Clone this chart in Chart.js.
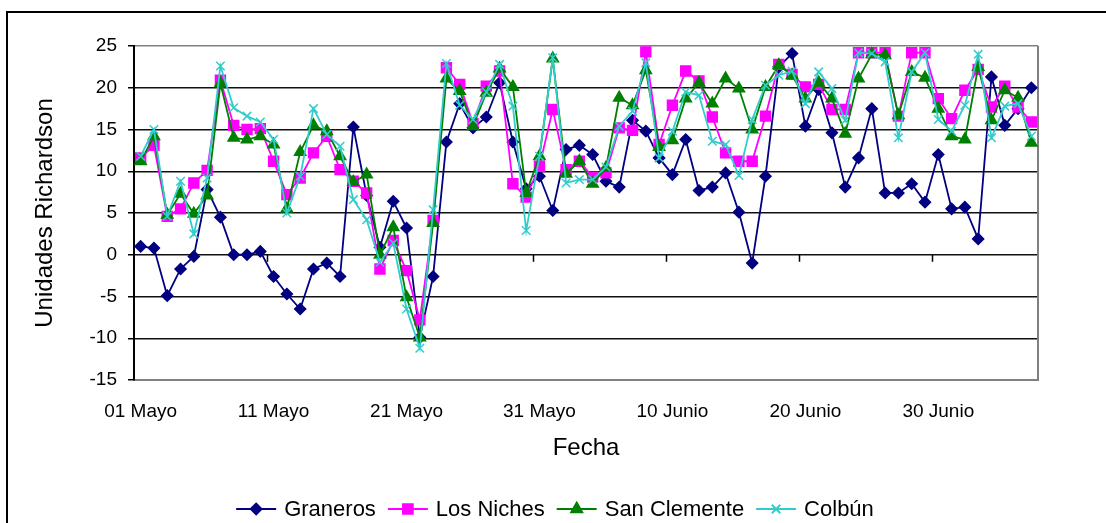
<!DOCTYPE html>
<html>
<head>
<meta charset="utf-8">
<script src="https://cdn.jsdelivr.net/npm/chart.js@4"></script>
<style>
  html, body { margin: 0; padding: 0; background: #fff; }
  canvas { display: block; }
</style>
</head>
<body>
<canvas id="chart" width="1106" height="523"></canvas>
<script>
// daily values, 01 Mayo .. 07 Julio
const graneros = [1.0, 0.8, -4.9, -1.7, -0.2, 7.8, 4.5, 0.0, 0.0, 0.4,
  -2.6, -4.7, -6.5, -1.7, -1.0, -2.6, 15.3, 7.1, 0.9, 6.4,
  3.2, -9.9, -2.6, 13.5, 18.1, 15.2, 16.5, 20.6, 13.5, 7.9,
  9.4, 5.3, 12.6, 13.1, 12.0, 8.8, 8.1, 16.1, 14.8, 11.6,
  9.6, 13.8, 7.7, 8.1, 9.8, 5.1, -1.0, 9.4, 22.5, 24.1,
  15.4, 19.8, 14.6, 8.1, 11.6, 17.5, 7.4, 7.4, 8.5, 6.3,
  12.0, 5.5, 5.7, 1.9, 21.3, 15.5, 17.5, 20.0];
const losNiches = [11.6, 13.1, 4.6, 5.5, 8.6, 10.1, 20.9, 15.5, 15.0, 15.1,
  11.2, 7.2, 9.2, 12.2, 14.2, 10.2, 8.8, 7.4, -1.7, 1.7,
  -1.9, -7.8, 4.1, 22.4, 20.4, 15.7, 20.2, 22.0, 8.5, 6.9,
  10.6, 17.4, 10.2, 11.2, 9.3, 9.8, 15.2, 14.9, 24.3, 13.2,
  17.9, 22.0, 20.8, 16.5, 12.2, 11.2, 11.2, 16.6, 22.8, 21.6,
  20.1, 20.4, 17.4, 17.4, 24.2, 24.2, 24.2, 16.6, 24.2, 24.2,
  18.7, 16.3, 19.7, 22.2, 17.7, 20.2, 17.7, 15.9];
const sanClemente = [11.2, 14.2, 4.8, 7.3, 4.9, 7.1, 20.5, 14.0, 13.8, 14.2,
  13.2, 5.5, 12.3, 15.5, 14.8, 11.8, 8.7, 9.6, 0.0, 3.3,
  -5.1, -9.9, 3.8, 21.1, 19.6, 15.4, 19.4, 22.3, 20.1, 7.4,
  11.8, 23.5, 9.7, 11.2, 8.5, 10.4, 18.8, 17.9, 22.1, 12.9,
  13.7, 18.7, 20.6, 18.1, 21.1, 19.9, 15.0, 20.1, 22.7, 21.5,
  18.7, 20.6, 18.7, 14.5, 21.1, 24.0, 23.9, 16.7, 21.9, 21.2,
  17.5, 14.2, 13.8, 22.5, 16.1, 19.7, 18.8, 13.4];
const colbun = [11.8, 15.0, 4.6, 8.8, 2.5, 9.2, 22.6, 17.6, 16.6, 15.9,
  13.8, 5.0, 9.4, 17.5, 14.4, 13.0, 6.6, 4.2, -0.9, 1.4,
  -6.5, -11.2, 5.4, 22.9, 17.9, 16.2, 19.5, 22.8, 17.8, 2.9,
  11.8, 23.6, 8.6, 9.0, 9.0, 10.5, 15.4, 17.2, 23.0, 11.6,
  14.8, 19.5, 19.1, 13.6, 13.2, 9.5, 16.2, 20.3, 21.5, 22.0,
  18.1, 21.9, 19.9, 16.1, 24.2, 24.1, 23.1, 14.0, 21.9, 24.2,
  16.2, 14.8, 17.9, 24.0, 14.0, 17.8, 18.1, 14.2];

const months = [['Mayo', 31], ['Junio', 30], ['Julio', 7]];
const tickLabels = ['01 Mayo', '11 Mayo', '21 Mayo', '31 Mayo', '10 Junio', '20 Junio', '30 Junio'];

const labels = [];
months.forEach(([name, n]) => {
  for (let d = 1; d <= n; d++) labels.push(String(d).padStart(2, '0') + ' ' + name);
});

const FONT = 'Liberation Sans, Arial, sans-serif';

const series = [
  { label: 'Graneros', data: graneros, color: '#000080', style: 'rectRot', r: 5.5 },
  { label: 'Los Niches', data: losNiches, color: '#FF00FF', style: 'rect', r: 7 },
  { label: 'San Clemente', data: sanClemente, color: '#008000', style: 'triangle', r: 6.5 },
  { label: 'Colbún', data: colbun, color: '#33CCCC', style: 'crossRot', r: 6 }
];

const frame = {
  id: 'frame',
  beforeDraw(chart) {
    const ctx = chart.ctx;
    ctx.save();
    ctx.strokeStyle = '#000';
    ctx.lineWidth = 2;
    ctx.beginPath();
    ctx.moveTo(7, chart.height);
    ctx.lineTo(7, 12);
    ctx.lineTo(chart.width, 12);
    ctx.stroke();
    ctx.restore();
  },
  beforeDatasetsDraw(chart) {
    const { ctx, chartArea: a, scales: { x, y } } = chart;
    ctx.save();
    ctx.strokeStyle = '#808080';
    ctx.lineWidth = 2;
    ctx.beginPath();
    ctx.moveTo(a.right, a.top);
    ctx.lineTo(a.right, a.bottom);
    ctx.stroke();
    // date ticks sit on the zero line
    const y0 = y.getPixelForValue(0);
    const half = (x.getPixelForValue(1) - x.getPixelForValue(0)) / 2;
    ctx.strokeStyle = '#000';
    ctx.lineWidth = 1.5;
    ctx.beginPath();
    for (let i = 10; i < labels.length; i += 10) {
      const px = Math.round(x.getPixelForValue(i) - half) + 0.5;
      ctx.moveTo(px, y0);
      ctx.lineTo(px, y0 + 7);
    }
    ctx.stroke();
    ctx.restore();
  },
  afterDraw(chart) {
    // legend: line sample with marker, then name
    const ctx = chart.ctx;
    ctx.save();
    ctx.font = '22px ' + FONT;
    ctx.textBaseline = 'middle';
    const sample = 40, gap = 8, space = 12, ly = 509;
    let total = 0;
    series.forEach((s, i) => {
      total += sample + gap + ctx.measureText(s.label).width + (i ? space : 0);
    });
    let lx = (chart.width - total) / 2 + 2;
    series.forEach(s => {
      ctx.strokeStyle = s.color;
      ctx.fillStyle = s.color;
      ctx.lineWidth = 1.8;
      ctx.beginPath();
      ctx.moveTo(lx, ly);
      ctx.lineTo(lx + sample, ly);
      ctx.stroke();
      Chart.helpers.drawPoint(ctx, { pointStyle: s.style, radius: s.r, borderWidth: 1.5, rotation: 0 }, lx + sample / 2, ly);
      ctx.fillStyle = '#000';
      ctx.fillText(s.label, lx + sample + gap, ly + 1);
      lx += sample + gap + ctx.measureText(s.label).width + space;
    });
    ctx.restore();
  }
};

new Chart(document.getElementById('chart'), {
  type: 'line',
  data: {
    labels: labels,
    datasets: series.map((s, i) => ({
      label: s.label,
      data: s.data,
      borderColor: s.color,
      backgroundColor: s.color,
      borderWidth: 1.8,
      pointStyle: s.style,
      pointRadius: s.r,
      pointBorderWidth: 1.5,
      pointBackgroundColor: s.color,
      pointBorderColor: s.color,
      tension: 0,
      order: series.length - i
    }))
  },
  options: {
    responsive: false,
    animation: false,
    devicePixelRatio: 1,
    layout: { padding: { left: 0, top: 46, right: 68, bottom: 53 } },
    plugins: {
      legend: { display: false },
      tooltip: { enabled: false }
    },
    scales: {
      x: {
        type: 'category',
        offset: true,
        afterFit: (scale) => { scale.height = 90; },
        grid: { display: false, offset: true },
        border: { display: true, color: '#808080', width: 2 },
        ticks: {
          autoSkip: false,
          maxRotation: 0,
          padding: 12,
          color: '#000',
          font: { family: FONT, size: 19 },
          callback: (v, i) => (i % 10 === 0 ? tickLabels[i / 10] : '')
        },
        title: {
          display: true,
          text: 'Fecha',
          color: '#000',
          font: { family: FONT, size: 24 },
          padding: { top: 0, bottom: 7 }
        }
      },
      y: {
        min: -15,
        max: 25,
        afterFit: (scale) => { scale.width = 134; },
        grid: {
          color: (c) => (c.tick && (c.tick.value === 25 || c.tick.value === -15) ? '#808080' : '#111'),
          lineWidth: 1.5,
          drawTicks: true,
          tickLength: 6,
          tickColor: '#000'
        },
        border: { display: true, color: '#000', width: 2 },
        ticks: {
          stepSize: 5,
          padding: 11,
          color: '#000',
          font: { family: FONT, size: 19 }
        },
        title: {
          display: true,
          text: 'Unidades Richardson',
          color: '#000',
          font: { family: FONT, size: 24 },
          padding: { top: 31, bottom: 0 }
        }
      }
    }
  },
  plugins: [frame]
});
</script>
</body>
</html>
